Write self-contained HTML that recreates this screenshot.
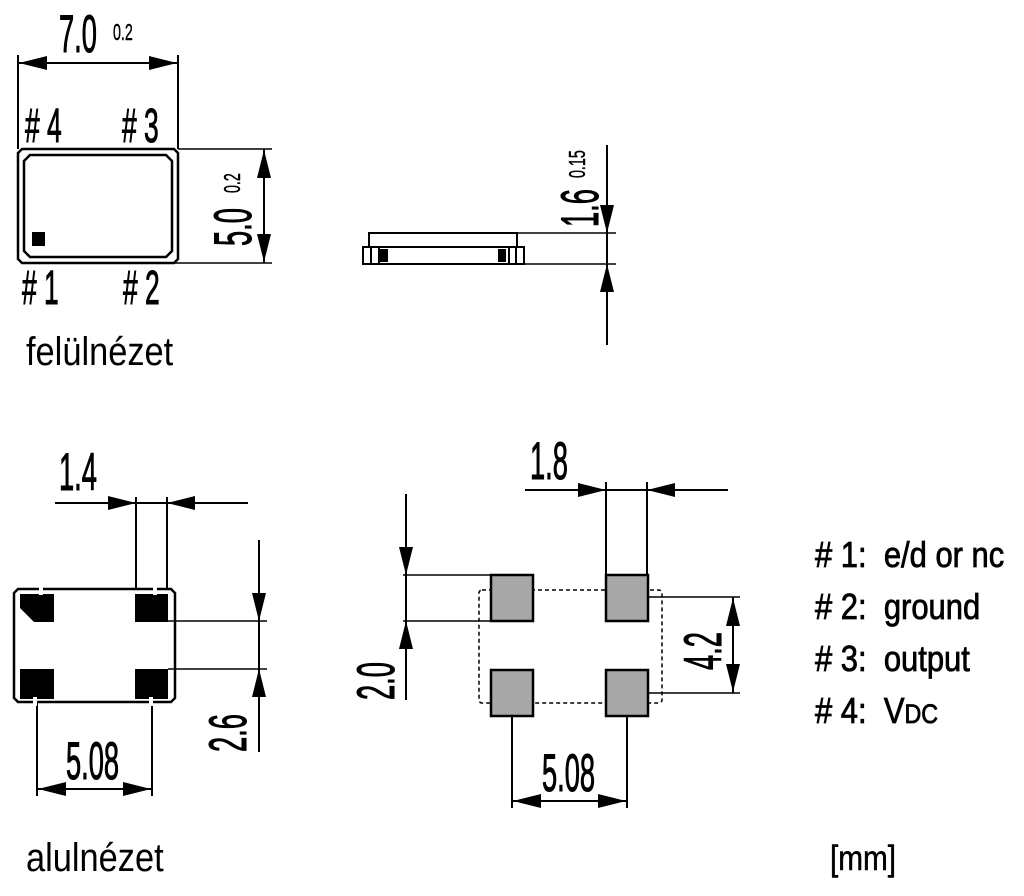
<!DOCTYPE html>
<html><head><meta charset="utf-8"><style>
html,body{margin:0;padding:0;background:#fff;}
svg{display:block;}
text{font-family:"Liberation Sans",sans-serif;fill:#000;}
.d{font-size:44px;stroke:#000;stroke-width:0.9px;}
.s{font-size:21px;stroke:#000;stroke-width:0.4px;}
.l{font-size:36px;stroke:#000;stroke-width:0.8px;}
</style></head><body>
<svg width="1024" height="896" viewBox="0 0 1024 896" xmlns="http://www.w3.org/2000/svg">
<g stroke="#000" stroke-width="2" fill="none">
<path d="M22 149 H174 L178 153 V259 L174 263 H22 L18 259 V153 Z" stroke-width="2.5"/>
<path d="M30 155 H166 L172 161 V251 L166 257 H30 L24 251 V161 Z" stroke-width="2.5"/>
<line x1="18" y1="55" x2="18" y2="149"/>
<line x1="178" y1="55" x2="178" y2="149"/>
<line x1="18" y1="63" x2="178" y2="63"/>
<line x1="178" y1="149" x2="272" y2="149" stroke-width="1.5"/>
<line x1="175" y1="263" x2="272" y2="263" stroke-width="1.5"/>
<line x1="264" y1="149" x2="264" y2="263"/>
<rect x="369" y="233" width="148" height="14"/>
<rect x="363" y="247" width="161" height="17"/>
<line x1="371" y1="247" x2="371" y2="264"/><line x1="379" y1="247" x2="379" y2="264"/>
<line x1="509" y1="247" x2="509" y2="264"/><line x1="516" y1="247" x2="516" y2="264"/>
<line x1="517" y1="233" x2="616" y2="233" stroke-width="1.5"/>
<line x1="524" y1="264" x2="616" y2="264" stroke-width="1.5"/>
<line x1="607" y1="145" x2="607" y2="345"/>
<path d="M18 589 H171 L175 593 V698 L171 702 H18 L14 698 V593 Z" stroke-width="2.5"/>
<line x1="136" y1="497" x2="136" y2="589"/>
<line x1="167" y1="497" x2="167" y2="589"/>
<line x1="55" y1="503" x2="248" y2="503"/>
<line x1="168" y1="621" x2="267" y2="621" stroke-width="1.5"/>
<line x1="168" y1="669" x2="267" y2="669" stroke-width="1.5"/>
<line x1="259" y1="540" x2="259" y2="752"/>
<line x1="37" y1="702" x2="37" y2="796"/>
<line x1="152" y1="702" x2="152" y2="796"/>
<line x1="37" y1="789" x2="152" y2="789"/>
<rect x="479" y="590" width="183" height="113" rx="3" stroke-dasharray="4,3" stroke-width="1.5"/>
<line x1="606" y1="482" x2="606" y2="574"/>
<line x1="647" y1="482" x2="647" y2="574"/>
<line x1="525" y1="490" x2="728" y2="490"/>
<line x1="403" y1="575" x2="490" y2="575" stroke-width="1.5"/>
<line x1="403" y1="621" x2="490" y2="621" stroke-width="1.5"/>
<line x1="406" y1="494" x2="406" y2="700"/>
<line x1="648" y1="597" x2="740" y2="597" stroke-width="1.5"/>
<line x1="648" y1="693" x2="740" y2="693" stroke-width="1.5"/>
<line x1="733" y1="597" x2="733" y2="693"/>
<line x1="512" y1="716" x2="512" y2="808"/>
<line x1="627" y1="716" x2="627" y2="808"/>
<line x1="512" y1="801" x2="627" y2="801"/>
</g>
<g fill="#a8a8a8" stroke="#000" stroke-width="2.5">
<rect x="491" y="575" width="42" height="46"/>
<rect x="606" y="575" width="42" height="46"/>
<rect x="491" y="670" width="42" height="46"/>
<rect x="606" y="670" width="42" height="46"/>
</g>
<g fill="#000">
<rect x="32" y="232" width="13" height="14"/>
<rect x="380" y="249" width="8" height="13"/><rect x="498" y="249" width="8" height="13"/>
<path d="M20 594 H54 V622 H34 L20 608 Z"/>
<rect x="135" y="594" width="33" height="28"/>
<rect x="20" y="669" width="34" height="30"/>
<rect x="135" y="669" width="33" height="30"/>
<polygon points="19,63 47,56 47,70"/><polygon points="177,63 149,56 149,70"/>
<polygon points="264,150 257,178 271,178"/><polygon points="264,262 257,234 271,234"/>
<polygon points="607,233 600,205 614,205"/><polygon points="607,264 600,292 614,292"/>
<polygon points="136,503 108,496 108,510"/><polygon points="167,503 195,496 195,510"/>
<polygon points="259,621 252,593 266,593"/><polygon points="259,669 252,697 266,697"/>
<polygon points="38,789 66,782 66,796"/><polygon points="151,789 123,782 123,796"/>
<polygon points="606,490 578,483 578,497"/><polygon points="647,490 675,483 675,497"/>
<polygon points="406,575 399,547 413,547"/><polygon points="406,621 399,649 413,649"/>
<polygon points="733,598 726,626 740,626"/><polygon points="733,692 726,664 740,664"/>
<polygon points="513,801 541,794 541,808"/><polygon points="626,801 598,794 598,808"/>
</g>
<g fill="#fff">
<rect x="39" y="586" width="4" height="9"/><rect x="153" y="586" width="4" height="9"/>
<rect x="33" y="697" width="4" height="9"/><rect x="149" y="697" width="4" height="9"/>
</g>
<text class="d" transform="translate(59,52) scale(0.62,1.2)">7.0</text>
<text class="s" transform="translate(113,40) scale(0.68,1.1)">0.2</text>
<text class="d" transform="translate(25,142) scale(0.6,1.1)"># 4</text>
<text class="d" transform="translate(122,142) scale(0.6,1.1)"># 3</text>
<text class="d" transform="translate(22,304) scale(0.6,1.1)"># 1</text>
<text class="d" transform="translate(123,304) scale(0.6,1.1)"># 2</text>
<text class="d" transform="translate(251,246) rotate(-90) scale(0.62,1.2)">5.0</text>
<text class="s" transform="translate(240,193) rotate(-90) scale(0.68,1.1)">0.2</text>
<text class="d" transform="translate(598,227) rotate(-90) scale(0.62,1.2)">1.6</text>
<text class="s" transform="translate(585,178) rotate(-90) scale(0.68,1.1)">0.15</text>
<text transform="translate(26,365) scale(0.86,1)" font-size="40">felülnézet</text>
<text class="d" transform="translate(59,490) scale(0.62,1.2)">1.4</text>
<text class="d" transform="translate(246,752) rotate(-90) scale(0.62,1.2)">2.6</text>
<text class="d" transform="translate(66,779) scale(0.62,1.2)">5.08</text>
<text transform="translate(26,871) scale(0.86,1)" font-size="40">alulnézet</text>
<text class="d" transform="translate(530,479) scale(0.62,1.2)">1.8</text>
<text class="d" transform="translate(394,700) rotate(-90) scale(0.62,1.2)">2.0</text>
<text class="d" transform="translate(721,670) rotate(-90) scale(0.62,1.2)">4.2</text>
<text class="d" transform="translate(542,791) scale(0.62,1.2)">5.08</text>
<text class="l" transform="translate(815,567) scale(0.86,1)"># 1:&#160; e/d or nc</text>
<text class="l" transform="translate(815,619) scale(0.86,1)"># 2:&#160; ground</text>
<text class="l" transform="translate(815,671) scale(0.86,1)"># 3:&#160; output</text>
<text class="l" transform="translate(815,723) scale(0.86,1)"># 4:&#160; V<tspan font-size="27">DC</tspan></text>
<text transform="translate(830,870) scale(0.85,1)" font-size="35" stroke="#000" stroke-width="0.5">[mm]</text>
</svg>
</body></html>
